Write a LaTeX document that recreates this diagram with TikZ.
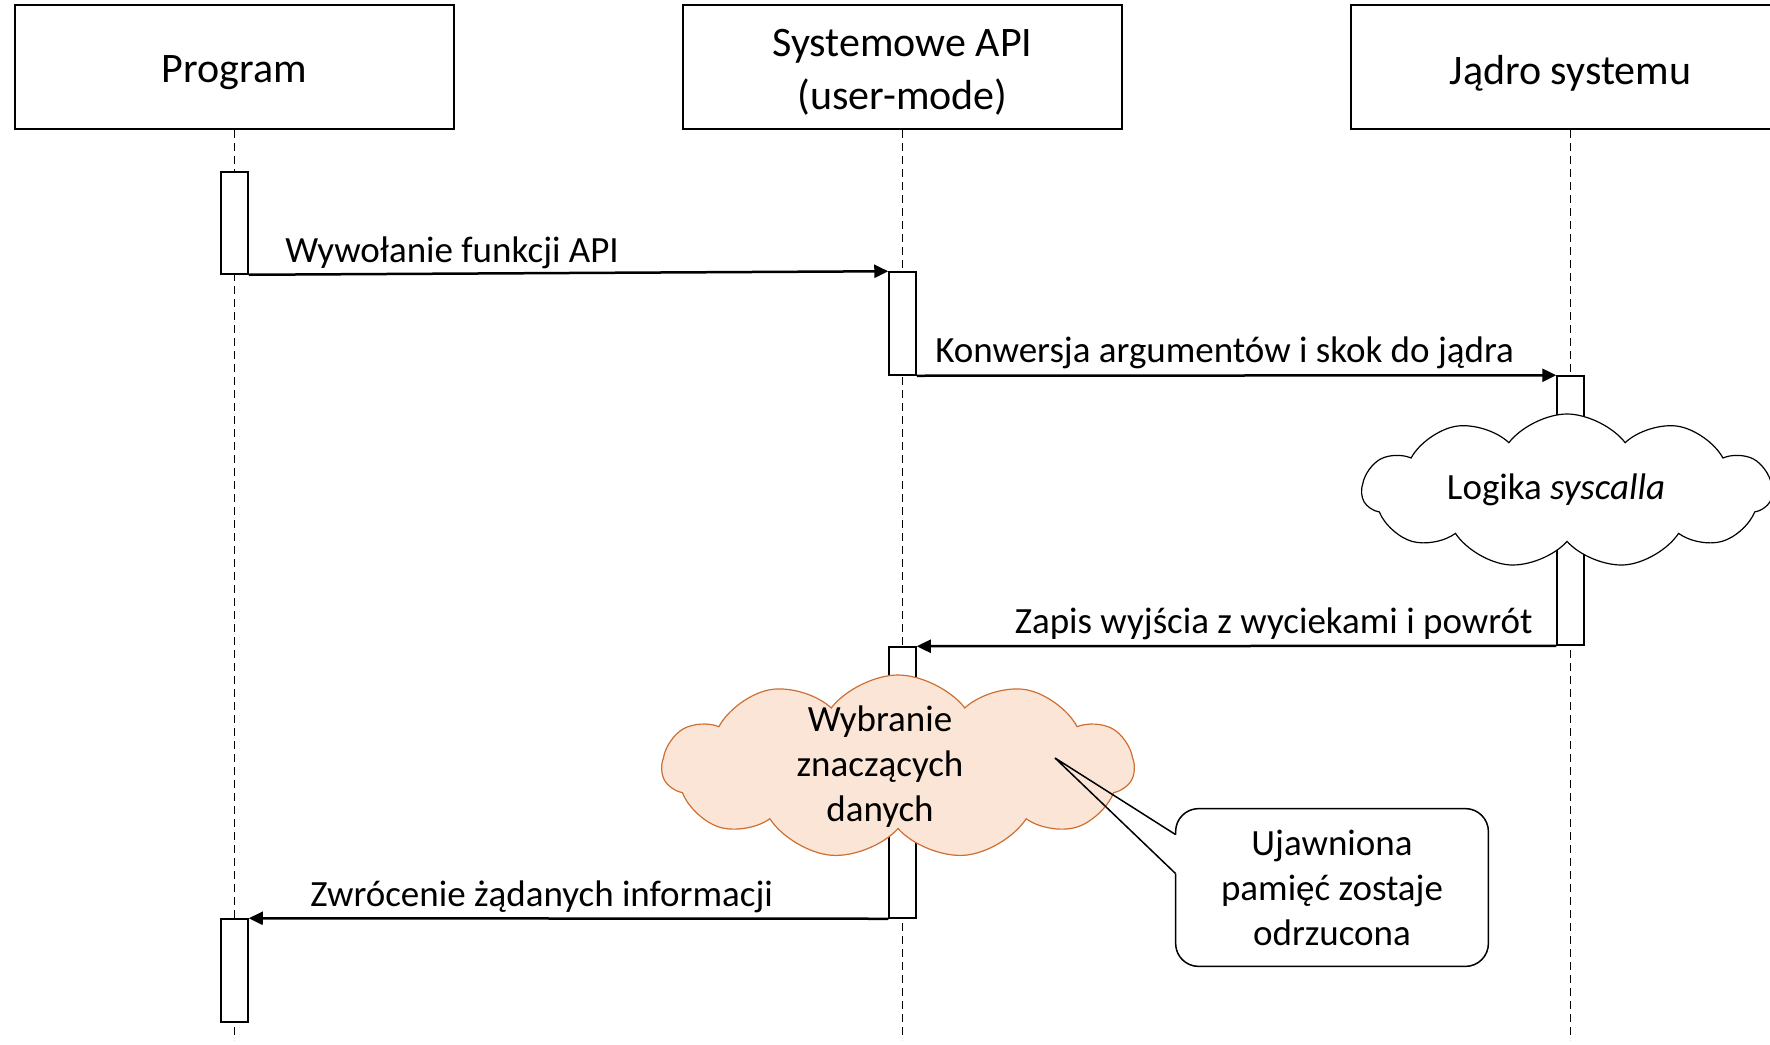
\documentclass[tikz,border=0pt]{standalone}
\usepackage{fontspec}
\setmainfont{Carlito}
\usetikzlibrary{shapes.symbols,arrows.meta,calc}
\definecolor{peach}{RGB}{251,229,214}
\definecolor{peachline}{RGB}{207,110,50}
\begin{document}
\begin{tikzpicture}[x=0.5pt,y=-0.5pt,
  header/.style={draw,line width=1pt,minimum width=219.5pt,minimum height=62pt,inner sep=0pt},
  htxt/.style={font=\fontsize{21}{26.5}\selectfont,align=center,inner sep=0pt},
  life/.style={line width=0.5pt,dash pattern=on 4pt off 2.5pt},
  act/.style={draw,fill=white,line width=0.75pt,minimum width=13.5pt,inner sep=0pt},
  msg/.style={line width=1.25pt,-{Triangle[length=7pt,width=6.5pt]}},
  lbl/.style={font=\fontsize{18.5}{22.5}\selectfont,inner sep=0pt},
  puffy/.style={cloud,line width=0.6pt,cloud puffs=11,cloud puff arc=105,aspect=2.6},
]
\useasboundingbox (0,0) rectangle (1770,1044);
\clip (0,0) rectangle (1770,1044);

% participants
\node[header] (prog) at (234.5,67) {};
\node[header] (api)  at (902.5,67) {};
\node[header] (kern) at (1570.5,67) {};
\node[htxt] (progtxt) at (234.5,73) {Program};
\node[htxt] (apitxt)  at (902.5,72) {Systemowe API\\(user-mode)};
\node[htxt] (kerntxt) at (1570.5,73) {Jądro systemu};

% lifelines
\coordinate (progend) at (234.5,1040);
\coordinate (apiend)  at (902.5,1040);
\coordinate (kernend) at (1570.5,1040);
\draw[life] (prog.south) -- (progend);
\draw[life] (api.south)  -- (apiend);
\draw[life] (kern.south) -- (kernend);

% activation bars
\node[act,minimum height=51pt]    (p1) at (234.5,223) {};
\node[act,minimum height=51.5pt]  (a1) at (902.5,323.5) {};
\node[act,minimum height=134.5pt] (k1) at (1570.5,510.5) {};
\node[act,minimum height=135.5pt] (a2) at (902.5,782.5) {};
\node[act,minimum height=51.5pt]  (p2) at (234.5,970.5) {};

% clouds
\node[puffy,draw,fill=white,minimum width=205pt,minimum height=77pt] (logic) at (1567,491) {};
\node[lbl] (logictxt) at (1556,490) {Logika \textit{syscalla}};

\node[puffy,draw=peachline,fill=peach,minimum width=236pt,minimum height=92pt] (sel) at (898,767) {};
\node[lbl,align=center] (seltxt) at (880,767) {Wybranie\\znaczących\\danych};

% messages
\draw[msg] (p1.south east) -- (a1.north west);
\node[lbl,anchor=base west] (m1) at (285,262) {Wywołanie funkcji API};
\draw[msg] (a1.south east) -- (k1.north west);
\node[lbl,anchor=base west] (m2) at (935,362) {Konwersja argumentów i skok do jądra};
\draw[msg] (k1.south west) -- (a2.north east);
\node[lbl,anchor=base east] (m3) at (1533,633) {Zapis wyjścia z wyciekami i powrót};
\draw[msg] (a2.south west) -- (p2.north east);
\node[lbl,anchor=base west] (m4) at (310,906) {Zwrócenie żądanych informacji};

% callout
\node[fill=white,minimum width=156pt,minimum height=78.5pt,rounded corners=11.5pt,
  lbl,align=center] (note) at (1332,887.5) {Ujawniona\\pamięć zostaje\\odrzucona};
\coordinate (tip) at (1055,758);
\coordinate (b1) at ($(note.north west)+(0,26)$);
\coordinate (b2) at ($(note.north west)+(0,65)$);
\draw[line width=0.75pt,rounded corners=11.5pt]
  (b1) -- (note.north west) -- (note.north east) -- (note.south east)
  -- (note.south west) -- (b2);
\draw[line width=0.75pt,line join=miter] (b1) -- (tip) -- (b2);
\end{tikzpicture}
\end{document}
